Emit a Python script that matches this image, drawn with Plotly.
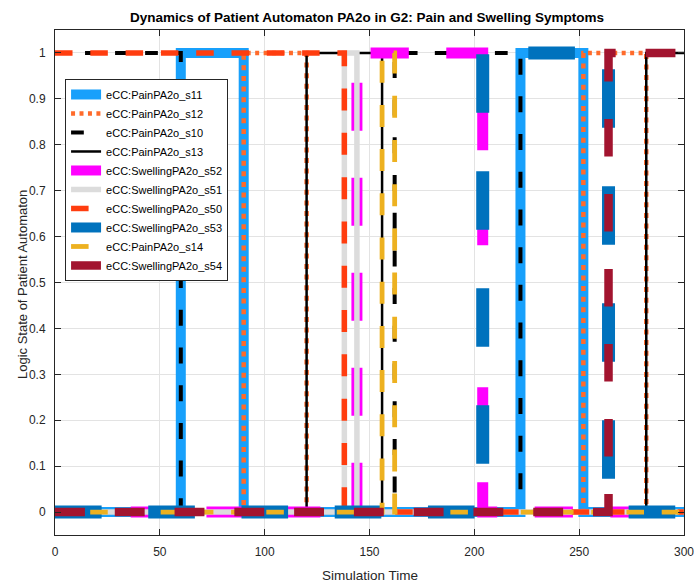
import plotly.graph_objects as go

# ---- data (step functions: value holds from each time until the next) ----
series_names = [
    "eCC:PainPA2o_s11", "eCC:PainPA2o_s12", "eCC:PainPA2o_s10", "eCC:PainPA2o_s13",
    "eCC:SwellingPA2o_s52", "eCC:SwellingPA2o_s51", "eCC:SwellingPA2o_s50",
    "eCC:SwellingPA2o_s53", "eCC:PainPA2o_s14", "eCC:SwellingPA2o_s54",
]

t_s11 = [0, 60, 90, 222, 252, 300]
v_s11 = [0, 1, 0, 1, 0, 0]
t_s12 = [0, 90, 120, 252, 282, 300]
v_s12 = [0, 1, 0, 1, 0, 0]
t_s10 = [0, 60, 162, 222, 300]
v_s10 = [1, 0, 1, 0, 0]
t_s13 = [0, 120, 156, 282, 300]
v_s13 = [0, 1, 0, 1, 1]
t_s52 = [0, 144, 204, 300]
v_s52 = [0, 1, 0, 0]
t_s51 = [0, 138, 144, 300]
v_s51 = [0, 1, 0, 0]
t_s50 = [0, 138, 300]
v_s50 = [1, 0, 0]
t_s53 = [0, 204, 264, 300]
v_s53 = [0, 1, 0, 0]
t_s14 = [0, 156, 162, 300]
v_s14 = [0, 1, 0, 0]
t_s54 = [0, 264, 300]
v_s54 = [0, 1, 1]

x_ticks = [0, 50, 100, 150, 200, 250, 300]
y_ticks = [0, 0.1, 0.2, 0.3, 0.4, 0.5, 0.6, 0.7, 0.8, 0.9, 1]
y_tick_labels = ["0", "0.1", "0.2", "0.3", "0.4", "0.5", "0.6", "0.7", "0.8", "0.9", "1"]

series_t = [t_s11, t_s12, t_s10, t_s13, t_s52, t_s51, t_s50, t_s53, t_s14, t_s54]
series_v = [v_s11, v_s12, v_s10, v_s13, v_s52, v_s51, v_s50, v_s53, v_s14, v_s54]

# ---- layout geometry / styles ----
W, H = 694, 586
M_L, M_R, M_T, M_B = 55, 10, 30, 51
X_RANGE = [0, 300]
Y_RANGE = [-0.05, 1.05]
H_SCALE = 0.797  # source figure was squeezed horizontally: dashes run shorter along x


def _px(t):
    return (t - X_RANGE[0]) / (X_RANGE[1] - X_RANGE[0]) * (W - M_L - M_R)


def _py(v):
    return (v - Y_RANGE[0]) / (Y_RANGE[1] - Y_RANGE[0]) * (H - M_T - M_B)


def stepped_dash(t, v, dash, gap):
    """Dash list that follows an hv step path, with dashes compressed on horizontal runs."""
    segs = []
    for i in range(1, len(t)):
        segs.append((abs(_px(t[i]) - _px(t[i - 1])), H_SCALE))
        segs.append((abs(_py(v[i]) - _py(v[i - 1])), 1.0))
    pattern = [dash, gap]
    idx, rem = 0, dash
    out = []
    for length, s in segs:
        while length > 1e-9:
            take = min(length, rem * s)
            if out and out[-1][0] == idx:
                out[-1][1] += take
            else:
                out.append([idx, take])
            length -= take
            rem -= take / s
            if rem <= 1e-9:
                idx = 1 - idx
                rem = pattern[idx]
    vals = [seg[1] for seg in out]
    if len(vals) % 2 == 1:
        vals.append(1000)
    return ",".join(f"{max(x, 0.01):.2f}px" for x in vals)


styles = [
    dict(color="#18A0FB", width=10, dash=None),
    dict(color="#FF6B2B", width=4.5, dash=(5, 5.6)),
    dict(color="#000000", width=4, dash=(16, 21.7)),
    dict(color="#000000", width=2.5, dash=None),
    dict(color="#FF00FF", width=11, dash=(48, 47)),
    dict(color="#DCDCDC", width=5.5, dash=None),
    dict(color="#FF3D0F", width=5.5, dash=(22, 22.3)),
    dict(color="#0072BD", width=13, dash=(58.5, 58.5)),
    dict(color="#EDB120", width=4.8, dash=(22, 22.2)),
    dict(color="#A2142F", width=8.5, dash=(37.5, 37.5)),
]

fig = go.Figure()
for name, t, v, st in zip(series_names, series_t, series_v, styles):
    dash = "solid" if st["dash"] is None else stepped_dash(t, v, *st["dash"])
    fig.add_trace(go.Scatter(
        x=t, y=v, name=name, mode="lines",
        line=dict(shape="hv", color=st["color"], width=st["width"], dash=dash),
    ))

font_family = "Liberation Sans, Arial, sans-serif"
axis_color = "#262626"

fig.update_layout(
    width=W, height=H,
    margin=dict(l=M_L, r=M_R, t=M_T, b=M_B, autoexpand=False),
    paper_bgcolor="white", plot_bgcolor="white",
    font=dict(family=font_family, size=12, color=axis_color),
    title=dict(
        text="<b>Dynamics of Patient Automaton PA2o in G2: Pain and Swelling Symptoms</b>",
        x=367 / W, xanchor="center", y=1 - 17 / H, yanchor="middle", yref="container",
        font=dict(family=font_family, size=13.5, color="#000000"),
    ),
    showlegend=True,
    legend=dict(
        x=0.016, y=0.903, xanchor="left", yanchor="top",
        bgcolor="white", bordercolor=axis_color, borderwidth=1,
        font=dict(family=font_family, size=11, color="#000000"),
        tracegroupgap=0,
    ),
    annotations=[
        dict(text="Simulation Time", xref="paper", yref="paper", x=0.5, y=0,
             xanchor="center", yanchor="middle", yshift=-40, showarrow=False,
             font=dict(family=font_family, size=13.5, color=axis_color)),
        dict(text="Logic State of Patient Automaton", xref="paper", yref="paper", x=0, y=0.495,
             xanchor="center", yanchor="middle", xshift=-33, textangle=-90, showarrow=False,
             font=dict(family=font_family, size=13, color=axis_color)),
    ],
)

fig.update_xaxes(
    range=X_RANGE, tickvals=x_ticks, ticktext=[str(v) for v in x_ticks],
    showgrid=True, gridcolor="#E3E3E3", gridwidth=1,
    showline=True, linecolor=axis_color, linewidth=1, mirror="ticks",
    ticks="inside", ticklen=6, tickcolor=axis_color,
    zeroline=False, ticklabelstandoff=6, automargin=False, ticklabeloverflow="allow",
)
fig.update_yaxes(
    range=Y_RANGE, tickvals=y_ticks, ticktext=y_tick_labels,
    showgrid=True, gridcolor="#E3E3E3", gridwidth=1,
    showline=True, linecolor=axis_color, linewidth=1, mirror="ticks",
    ticks="inside", ticklen=6, tickcolor=axis_color,
    zeroline=False, ticklabelstandoff=6, automargin=False, ticklabeloverflow="allow",
)

# remove the browser's default page margin and scrollbars so the figure sits at the window origin
fig.write_html(
    "out.html",
    config={"displayModeBar": False},
    post_script="document.body.style.margin='0px';document.documentElement.style.overflow='hidden';",
)
